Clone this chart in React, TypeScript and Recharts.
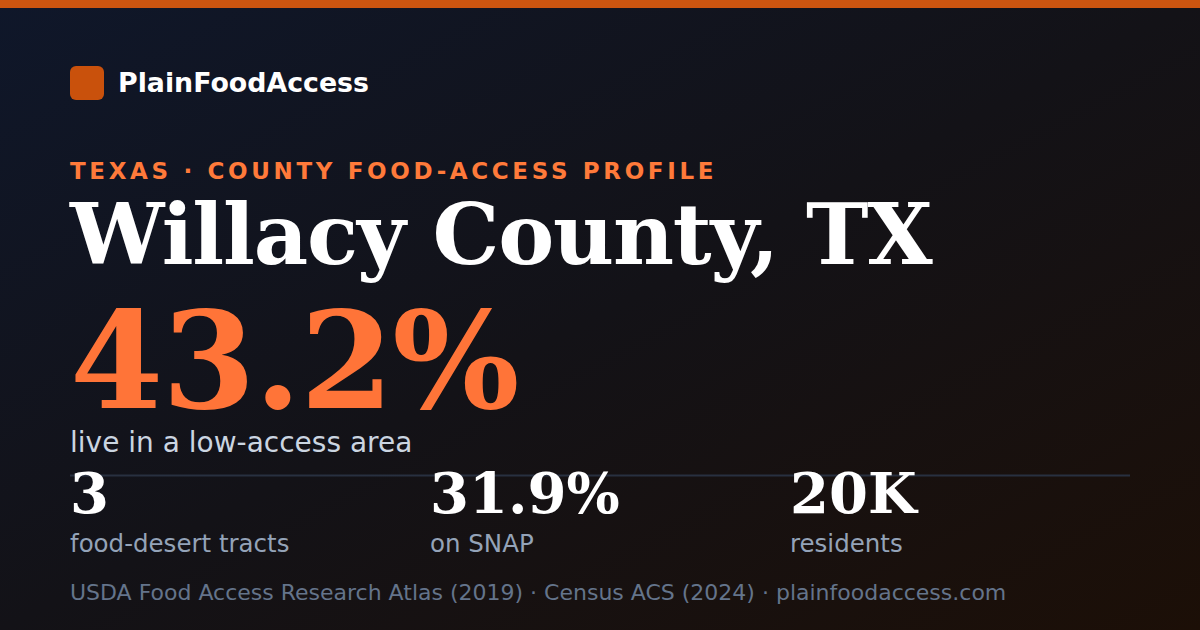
import React from "react";
import { Surface, Layer, Rectangle, Text } from "recharts";

const W = 1200;
const H = 630;

const brand = "PlainFoodAccess";
const kicker = "TEXAS · COUNTY FOOD-ACCESS PROFILE";
const county = "Willacy County, TX";
const headlineValue = "43.2%";
const headlineLabel = "live in a low-access area";

const statValues = ["3", "31.9%", "20K"];
const statLabels = ["food-desert tracts", "on SNAP", "residents"];

const sources = ["USDA Food Access Research Atlas (2019)", "Census ACS (2024)", "plainfoodaccess.com"];

const SANS = "'DejaVu Sans', sans-serif";
const SERIF = "'DejaVu Serif', serif";

export default function App() {
  return (
    <div style={{ position: "fixed", left: 0, top: 0, width: W, height: H, overflow: "hidden" }}>
      <Surface width={W} height={H} viewBox={{ x: 0, y: 0, width: W, height: H }}>
        <defs>
          <linearGradient id="bg" x1="0" y1="0" x2="1" y2="1">
            <stop offset="0%" stopColor="#0f172a" />
            <stop offset="50%" stopColor="#131217" />
            <stop offset="100%" stopColor="#1c0f07" />
          </linearGradient>
        </defs>
        <rect x={0} y={0} width={W} height={H} fill="url(#bg)" />
        <Rectangle x={0} y={0} width={W} height={8} fill="#cc5510" />

        <Layer>
          <Rectangle x={70} y={66} width={34} height={34} radius={6} fill="#c9510c" />
          <Text x={118} y={92} fontFamily={SANS} fontWeight="bold" fontSize={26.8} fill="#ffffff">
            {brand}
          </Text>
        </Layer>

        <Text
          x={70}
          y={179}
          fontFamily={SANS}
          fontWeight="bold"
          fontSize={23}
          letterSpacing={3.65}
          fill="#ff7a3a"
        >
          {kicker}
        </Text>

        <Text x={70} y={264} fontFamily={SERIF} fontWeight="bold" fontSize={84} letterSpacing={-1.2} fill="#ffffff">
          {county}
        </Text>

        <Text x={70} y={408} fontFamily={SERIF} fontWeight="bold" fontSize={134} letterSpacing={-1} fill="#ff7438">
          {headlineValue}
        </Text>

        <Text x={70} y={452} fontFamily={SANS} fontSize={28} fill="#cbd5e1">
          {headlineLabel}
        </Text>

        <line x1={70} y1={475.5} x2={1130} y2={475.5} stroke="#283040" strokeWidth={2} />

        {statValues.map((v, i) => (
          <Layer key={v}>
            <Text x={70 + i * 360} y={513} fontFamily={SERIF} fontWeight="bold" fontSize={56} fill="#ffffff">
              {v}
            </Text>
            <Text x={70 + i * 360} y={552} fontFamily={SANS} fontSize={24.5} fill="#94a3b8">
              {statLabels[i]}
            </Text>
          </Layer>
        ))}

        <Text x={70} y={600} fontFamily={SANS} fontSize={22} fill="#64748b">
          {sources.join(" · ")}
        </Text>
      </Surface>
    </div>
  );
}
